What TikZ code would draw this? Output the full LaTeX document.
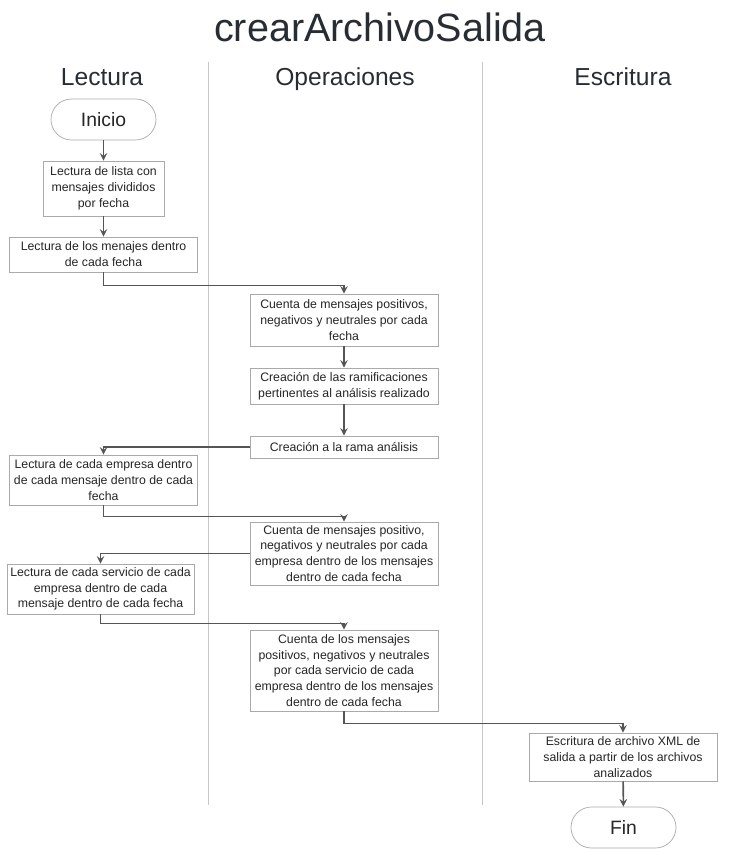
\documentclass[tikz,border=0pt]{standalone}
\usepackage{fontspec}
\setmainfont{Liberation Sans}
\usetikzlibrary{arrows,shapes}
\definecolor{titlegray}{HTML}{282C33}
\definecolor{linegray}{HTML}{555555}
\definecolor{boxgray}{HTML}{AAAAAA}
\tikzstyle{proc}=[draw=boxgray,fill=white,align=center,text=black!85,font=\fontsize{7}{9}\selectfont,inner sep=1pt]
\tikzstyle{term}=[draw=boxgray,fill=white,rounded corners=0.41cm,minimum width=2.1cm,minimum height=0.82cm,text=black!85,font=\fontsize{11}{13}\selectfont]
\tikzstyle{edge}=[draw,line width=0.9pt,linegray,-stealth]
\tikzstyle{lane}=[draw=black!22,line width=0.5pt]
\tikzstyle{heading}=[text=titlegray,anchor=base,font=\fontsize{14}{16}\selectfont]

\begin{document}
\begin{tikzpicture}[x=0.02cm, y=-0.02cm]

    \useasboundingbox (0,0) rectangle (731,861);

    % titulo y carriles
    \node[text=titlegray, font=\fontsize{22.5}{26}\selectfont] (titulo) at (380,27) {crearArchivoSalida};
    \foreach \x/\name/\lbl in {102/hlect/Lectura, 345/hoper/Operaciones, 623/hescr/Escritura}
        \node[heading] (\name) at (\x,86) {\lbl};
    \foreach \x in {208, 482}
        \draw[lane] (\x,62) -- (\x,805);

    % nodos
    \node[term] (inicio) at (103.5,119.5) {Inicio};
    \node[proc, minimum width=2.42cm, minimum height=1.1cm] (lista) at (103.5,188.5) {Lectura de lista con\\mensajes divididos\\por fecha};
    \node[proc, minimum width=3.76cm, minimum height=0.7cm] (menajes) at (103.5,254.5) {Lectura de los menajes dentro\\de cada fecha};
    \node[proc, minimum width=3.76cm, minimum height=1.04cm] (cuenta) at (344,320) {Cuenta de mensajes positivos,\\negativos y neutrales por cada\\fecha};
    \node[proc, minimum width=3.76cm, minimum height=0.72cm] (ramas) at (344,386) {Creación de las ramificaciones\\pertinentes al análisis realizado};
    \node[proc, minimum width=3.76cm, minimum height=0.44cm] (rama) at (344,447) {Creación a la rama análisis};
    \node[proc, minimum width=3.76cm, minimum height=1.0cm] (empresa) at (103.5,480) {Lectura de cada empresa dentro\\de cada mensaje dentro de cada\\fecha};
    \node[proc, minimum width=3.76cm, minimum height=1.26cm] (cuentaemp) at (344,553.5) {Cuenta de mensajes positivo,\\negativos y neutrales por cada\\empresa dentro de los mensajes\\dentro de cada fecha};
    \node[proc, minimum width=3.74cm, minimum height=1.0cm] (servicio) at (100.5,589) {Lectura de cada servicio de cada\\empresa dentro de cada\\mensaje dentro de cada fecha};
    \node[proc, minimum width=3.76cm, minimum height=1.62cm] (cuentaserv) at (344,670.5) {Cuenta de los mensajes\\positivos, negativos y neutrales\\por cada servicio de cada\\empresa dentro de los mensajes\\dentro de cada fecha};
    \node[proc, minimum width=3.76cm, minimum height=0.96cm] (xml) at (623,757) {Escritura de archivo XML de\\salida a partir de los archivos\\analizados};
    \node[term] (fin) at (623.5,827.5) {Fin};

    % conectores
    \foreach \source/\dest in {inicio/lista, lista/menajes, cuenta/ramas, ramas/rama, xml/fin}
        \path[edge] (\source) -- (\dest);

    \foreach \source/\dest/\drop in {menajes/cuenta/13, empresa/cuentaemp/11, servicio/cuentaserv/9, cuentaserv/xml/12}
        \path[edge] (\source.south) -- ++(0,\drop) -| (\dest.north);

    \foreach \source/\dest in {rama/empresa, cuentaemp/servicio}
        \path[edge] (\source.west) -| (\dest.north);

\end{tikzpicture}
\end{document}
